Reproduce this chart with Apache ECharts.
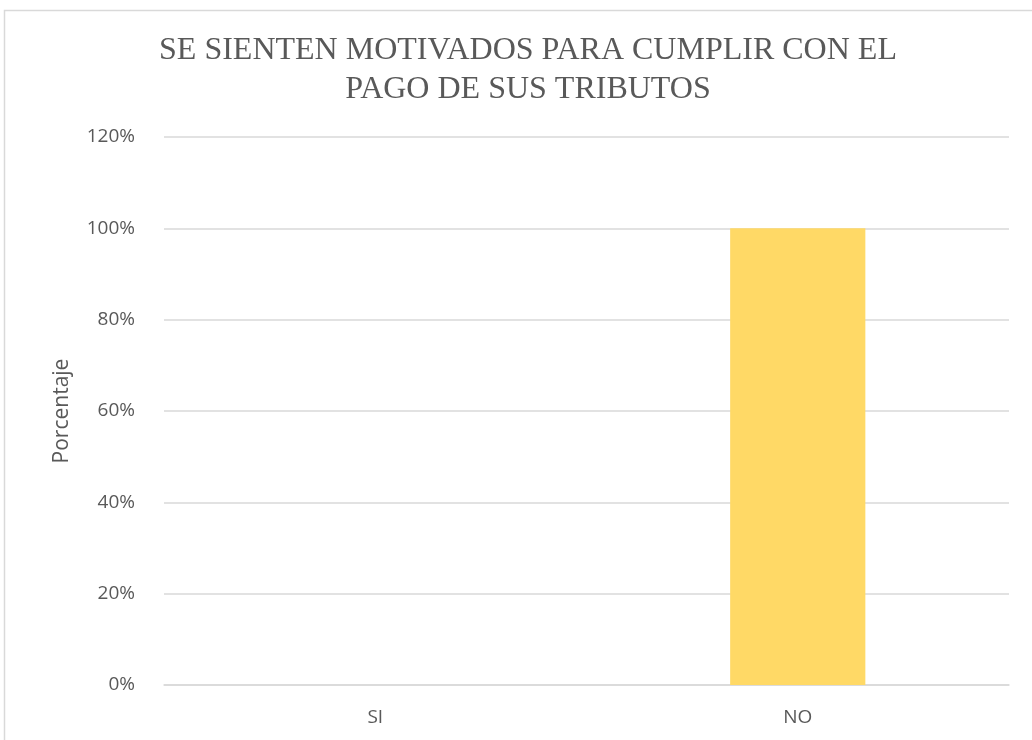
<!DOCTYPE html>
<html>
<head>
<meta charset="utf-8">
<script src="https://cdn.jsdelivr.net/npm/echarts@6/dist/echarts.min.js"></script>
<style>
  html, body { margin: 0; padding: 0; background: #fff; }
  #main { width: 1032px; height: 740px; }
</style>
</head>
<body>
<div id="main"></div>
<script>
// datos del gráfico
const categorias = ['SI', 'NO']
const porcentajes = [0, 1.0]
const titulo = 'SE SIENTEN MOTIVADOS PARA CUMPLIR CON EL\nPAGO DE SUS TRIBUTOS'
const tituloEje = 'Porcentaje'

const chart = echarts.init(document.getElementById('main'))

const option = {
  backgroundColor: '#fff',
  title: {
    text: titulo,
    left: 523,
    top: 26,
    textAlign: 'center',
    textStyle: {
      fontFamily: 'Liberation Serif',
      fontWeight: 'normal',
      fontSize: 32,
      lineHeight: 39,
      color: '#595959'
    }
  },
  graphic: [
    { // borde del área del gráfico
      type: 'rect',
      shape: { x: 4.5, y: 10.5, width: 1100, height: 800 },
      style: { fill: 'none', stroke: '#d9d9d9', lineWidth: 1.5 },
      silent: true
    }
  ],
  grid: {
    left: 164,
    right: 23,
    top: 137,
    bottom: 55
  },
  xAxis: {
    type: 'category',
    data: categorias,
    axisTick: { show: false },
    axisLine: { lineStyle: { color: '#d9d9d9', width: 1.5 } },
    axisLabel: {
      color: '#595959',
      fontFamily: 'Open Sans',
      fontSize: 19,
      margin: 23
    }
  },
  yAxis: {
    type: 'value',
    min: 0,
    max: 1.2,
    interval: 0.2,
    name: tituloEje,
    nameLocation: 'middle',
    nameGap: 91,
    nameTextStyle: {
      color: '#595959',
      fontFamily: 'Open Sans',
      fontSize: 21
    },
    axisLine: { show: false },
    axisTick: { show: false },
    splitLine: { lineStyle: { color: '#d9d9d9', width: 1.5 } },
    axisLabel: {
      color: '#595959',
      fontFamily: 'Open Sans',
      fontSize: 19,
      margin: 29,
      formatter: v => Math.round(v * 100) + '%'
    }
  },
  series: [
    {
      type: 'bar',
      data: porcentajes,
      barWidth: '32%',
      itemStyle: { color: '#FFD966' },
      silent: true
    }
  ]
}

chart.setOption(option)
</script>
</body>
</html>
